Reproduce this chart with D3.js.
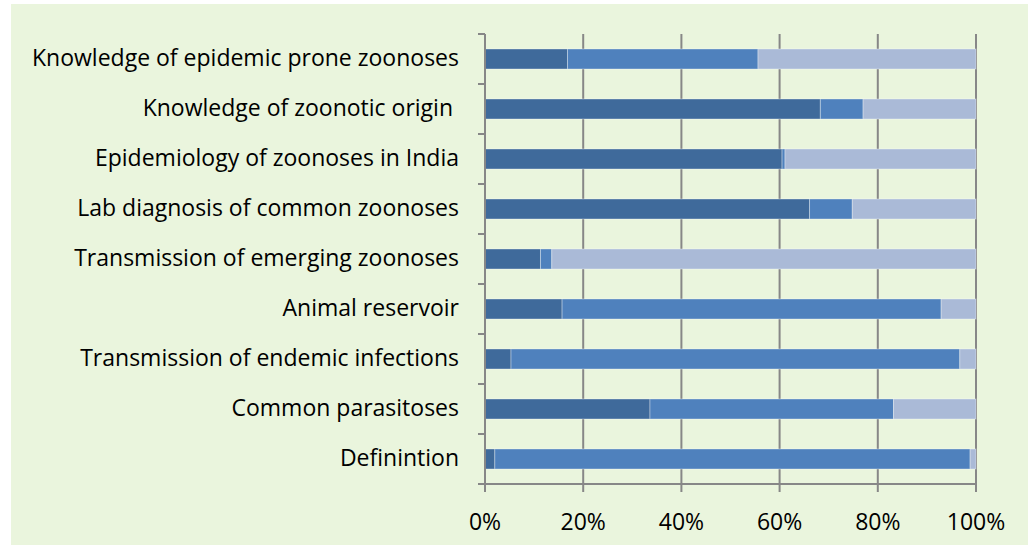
<!DOCTYPE html>
<html>
<head>
<meta charset="utf-8">
<script src="https://cdn.jsdelivr.net/npm/d3@7"></script>
<style>
  body { margin: 0; background: #fff; }
  text { font-family: "Open Sans", "Noto Sans", sans-serif; fill: #000; }
</style>
</head>
<body>
<div id="chart"></div>
<script>
const categories = [
    "Knowledge of epidemic prone zoonoses",
    "Knowledge of zoonotic origin ",
    "Epidemiology of zoonoses in India",
    "Lab diagnosis of common zoonoses",
    "Transmission of emerging zoonoses",
    "Animal reservoir",
    "Transmission of endemic infections",
    "Common parasitoses",
    "Definintion"
];
const series1 = [16.8, 68.3, 60.5, 66.1, 11.3, 15.7, 5.3, 33.6, 2.0];
const series2 = [38.8, 8.7, 0.6, 8.7, 2.3, 77.2, 91.4, 49.6, 96.8];
const series3 = [44.4, 23.0, 38.9, 25.2, 86.4, 7.1, 3.3, 16.8, 1.2];
const xTicks = [0, 20, 40, 60, 80, 100];
const colors = ["#3F6A9B", "#4F81BD", "#AABAD7"];

const W = 1028, H = 545;
const margin = {top: 34, right: 52, bottom: 61, left: 485};
const width = W - margin.left - margin.right;
const height = H - margin.top - margin.bottom;

const root = d3.select("#chart")
    .append("svg")
    .attr("width", W)
    .attr("height", H);

// panel background
root.append("rect")
    .attr("x", 11).attr("y", 4)
    .attr("width", W - 11).attr("height", H - 4)
    .attr("fill", "#EAF5DD");

const svg = root.append("g")
    .attr("transform", `translate(${margin.left}, ${margin.top})`);

const x = d3.scaleLinear().domain([0, 100]).range([0, width]);
const y = d3.scaleBand()
    .domain(categories)
    .range([0, height])
    .paddingInner(0.6)
    .paddingOuter(0.3);

// gridlines
svg.append("g")
    .selectAll("line")
    .data(xTicks.slice(1))
    .enter()
    .append("line")
    .attr("x1", d => x(d)).attr("x2", d => x(d))
    .attr("y1", 0).attr("y2", height)
    .attr("stroke", "#878787")
    .attr("stroke-width", 2);

// stacked data
const rows = categories.map((c, i) => ({cat: c, vals: [series1[i], series2[i], series3[i]]}));
const segs = [];
rows.forEach(r => {
    let acc = 0;
    r.vals.forEach((v, k) => {
        segs.push({cat: r.cat, x0: acc, x1: acc + v, k: k});
        acc += v;
    });
});

svg.append("g")
    .selectAll("rect")
    .data(segs)
    .enter()
    .append("rect")
    .attr("x", d => x(d.x0))
    .attr("width", d => Math.max(0, x(d.x1) - x(d.x0)))
    .attr("y", d => y(d.cat))
    .attr("height", y.bandwidth())
    .attr("fill", d => colors[d.k])
    .attr("stroke", "rgba(255,255,255,0.35)")
    .attr("stroke-width", 1);

// y axis
const yAxis = svg.append("g");
yAxis.append("line")
    .attr("x1", 0).attr("x2", 0)
    .attr("y1", 0).attr("y2", height)
    .attr("stroke", "#878787").attr("stroke-width", 2);
const step = y.step();
yAxis.selectAll(".ytick")
    .data(d3.range(categories.length + 1))
    .enter()
    .append("line")
    .attr("x1", -7).attr("x2", 0)
    .attr("y1", i => i * step).attr("y2", i => i * step)
    .attr("stroke", "#878787").attr("stroke-width", 2);
yAxis.selectAll(".ylab")
    .data(categories)
    .enter()
    .append("text")
    .attr("x", -26)
    .attr("y", d => y(d) + y.bandwidth() / 2)
    .attr("dy", "0.3em")
    .attr("text-anchor", "end")
    .style("white-space", "pre")
    .style("font-size", "23px")
    .text(d => d);

// x axis
const xAxis = svg.append("g").attr("transform", `translate(0, ${height})`);
xAxis.append("line")
    .attr("x1", -7).attr("x2", width)
    .attr("stroke", "#878787").attr("stroke-width", 2);
xAxis.selectAll(".xtick")
    .data(xTicks)
    .enter()
    .append("line")
    .attr("x1", d => x(d)).attr("x2", d => x(d))
    .attr("y1", 0).attr("y2", 8)
    .attr("stroke", "#878787").attr("stroke-width", 2);
xAxis.selectAll(".xlab")
    .data(xTicks)
    .enter()
    .append("text")
    .attr("x", d => x(d))
    .attr("y", 46)
    .attr("text-anchor", "middle")
    .style("font-size", "23px")
    .text(d => d + "%");
</script>
</body>
</html>
